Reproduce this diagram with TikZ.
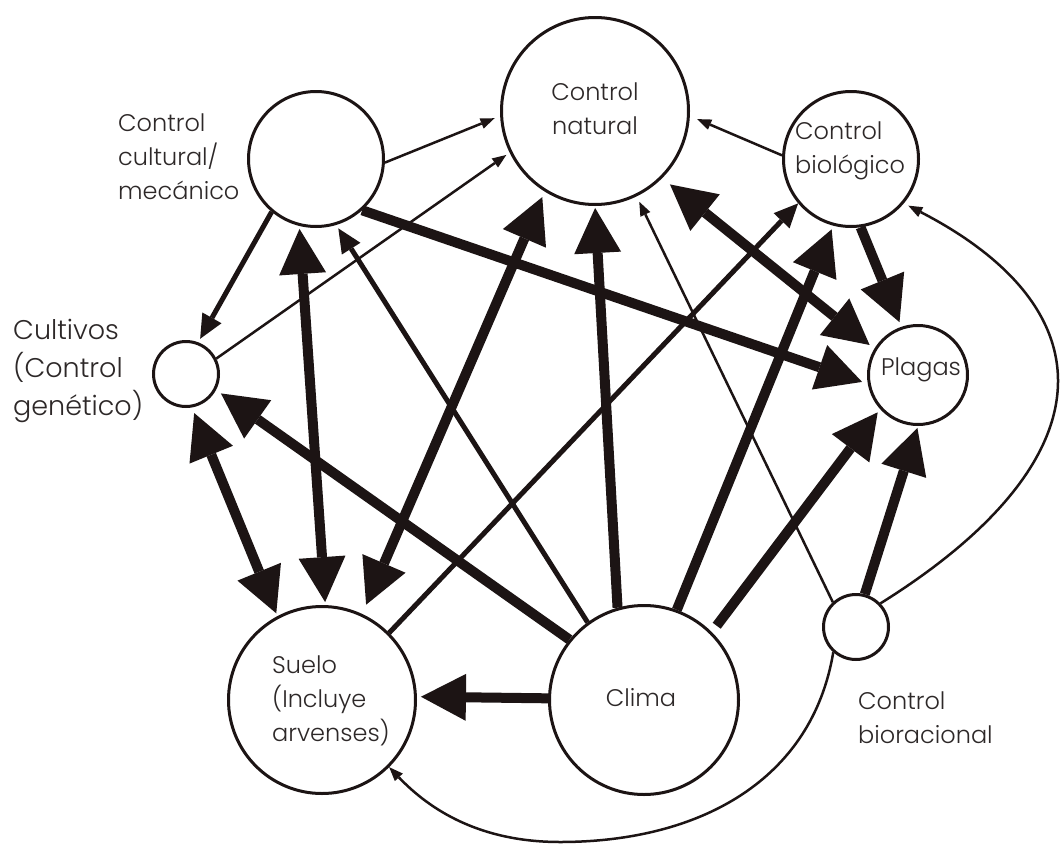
\documentclass[tikz,border=0pt]{standalone}
\usepackage{fontspec}
\IfFontExistsTF{Poppins Light}{\setmainfont{Poppins Light}}{\setmainfont{Poppins}}
\usetikzlibrary{arrows.meta}

\definecolor{inkc}{RGB}{28,20,20}
\definecolor{txtc}{RGB}{45,40,40}

\begin{document}
\begin{tikzpicture}[x=1pt,y=-1pt,
  circ/.style={circle, draw=inkc, fill=white, line width=3pt, minimum size=#1, inner sep=0pt},
  lbl/.style={text=txtc, font=\fontsize{24}{34}\selectfont, inner sep=0pt},
  biglbl/.style={text=txtc, font=\fontsize{27}{38}\selectfont, inner sep=0pt},
  arrowheavy/.style={draw=inkc, line width=10pt, -{Triangle[length=45pt,width=47pt,line width=0pt]}},
  arrowboth/.style={draw=inkc, line width=10pt, {Triangle[length=45pt,width=47pt,line width=0pt]}-{Triangle[length=45pt,width=47pt,line width=0pt]}},
  arrowmid/.style={draw=inkc, line width=5pt, -{Triangle[length=24pt,width=22pt,line width=0pt]}},
  arrowthin/.style={draw=inkc, line width=2.5pt, -{Triangle[length=14pt,width=11pt,line width=0pt]}},
]
\useasboundingbox[fill=white] (0,0) rectangle (1061,846);

% circles
\node[circ=187pt] (nat)    at (595,111) {};
\node[circ=135pt] (cult)   at (316,159) {};
\node[circ=135pt] (bio)    at (851,159) {};
\node[circ=65pt]  (cultiv) at (186,374) {};
\node[circ=99pt]  (plag)   at (918,375) {};
\node[circ=187pt] (suelo)  at (322,700) {};
\node[circ=189pt] (clima)  at (644,700) {};
\node[circ=65pt]  (biorac) at (856,627) {};

% texts
\node[lbl, anchor=west, align=left]   (cult-t)   at (118,157) {Control\\cultural/\\mecánico};
\node[biglbl, anchor=west, align=left] (cultiv-t) at (13,371) {Cultivos\\(Control\\genético)};
\node[lbl, align=center]              (nat-t)    at (595,109) {Control\\natural};
\node[lbl, anchor=west, align=left]   (bio-t)    at (795,151) {Control\\biológico};
\node[lbl, anchor=base]               (plag-t)   at (921,375) {Plagas};
\node[lbl, anchor=west, align=left]   (suelo-t)  at (272,701) {Suelo\\(Incluye\\arvenses)};
\node[lbl, anchor=base]               (clima-t)  at (641,706) {Clima};
\node[lbl, anchor=west, align=left]   (biorac-t) at (858,718) {Control\\bioracional};

% thin connectors
\draw[arrowthin, shorten >=6pt] (cult.-3) -- (nat.183);
\draw[arrowthin, shorten >=4pt] (cultiv.27) -- (nat.206);
\draw[arrowthin, shorten >=6pt] (biorac.133) -- (nat.296);
\draw[arrowthin, shorten >=8pt] (bio.177) -- (nat.-3);
\draw[arrowthin, shorten >=5pt] (biorac.44) .. controls (1110,460) and (1110,310) .. (bio.320);
\draw[arrowthin] (biorac.228) .. controls (812,780) and (700,842) .. (560,842)
                 .. controls (480,842) and (430,810) .. (suelo.315);

% medium connectors
\draw[arrowmid, shorten >=4pt] (cult.230) -- (cultiv.69);
\draw[arrowmid, shorten >=4pt] (clima.126) -- (cult.287);
\draw[arrowmid] (suelo.45) -- (bio.220);

% heavy connectors
\draw[arrowheavy, shorten >=6pt] (cult.-48) -- (plag.190);
\draw[arrowboth, shorten <=3pt, shorten >=3pt] (suelo.88) -- (cult.256);
\draw[arrowboth, shorten <=3pt, shorten >=6pt] (suelo.118) -- (cultiv.280);
\draw[arrowheavy, shorten >=6pt] (clima.141) -- (cultiv.-28);
\draw[arrowheavy, shorten >=2pt] (clima.106) -- (nat.270);
\draw[arrowboth, shorten <=10pt, shorten >=6pt] (suelo.65) -- (nat.238);
\draw[arrowheavy, shorten >=4pt] (clima.70) -- (bio.255);
\draw[arrowheavy, shorten <=8pt, shorten >=4pt] (clima.45) -- (plag.222);
\draw[arrowheavy, shorten >=2pt] (biorac.75) -- (plag.270);
\draw[arrowboth, shorten <=10pt, shorten >=6pt] (nat.315) -- (plag.149);
\draw[arrowheavy, shorten >=5pt] (bio.278) -- (plag.109);
\draw[arrowheavy, shorten >=4pt] (clima.179) -- (suelo.2);
\end{tikzpicture}
\end{document}
